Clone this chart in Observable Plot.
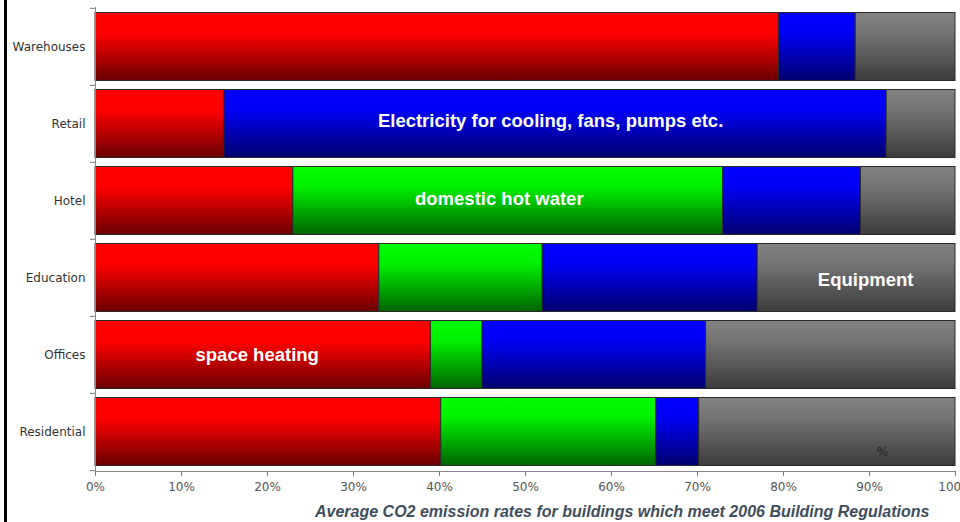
<!DOCTYPE html>
<html>
<head>
<meta charset="utf-8">
<script src="https://cdn.jsdelivr.net/npm/d3@7"></script>
<script src="https://cdn.jsdelivr.net/npm/@observablehq/plot@0.6"></script>
<style>
  html, body { margin: 0; padding: 0; background: #fff; }
  body { width: 960px; height: 522px; overflow: hidden; position: relative; font-family: "Liberation Sans", Arial, sans-serif; }
  #edge { position: absolute; left: 4px; top: 0; width: 3px; height: 522px; background: #000; }
  #chart { position: absolute; left: 0; top: 0; }
  #caption { position: absolute; left: 315px; top: 502px; font-size: 16px; line-height: 20px; font-weight: bold; font-style: italic; color: #3f4e5c; white-space: nowrap; }
</style>
</head>
<body>
<div id="chart"></div>
<div id="edge"></div>
<div id="caption">Average CO2 emission rates for buildings which meet 2006 Building Regulations</div>
<script>
// ---- data (percent of CO2 emissions) ----
const categories = ["Warehouses", "Retail", "Hotel", "Education", "Offices", "Residential"];
const seriesNames = ["space heating", "domestic hot water", "Electricity for cooling, fans, pumps etc.", "Equipment"];
const seriesKeys = ["heating", "water", "electricity", "equipment"];
const heating     = [79.5, 15, 23, 33, 39, 40.2];
const hotWater    = [0,     0, 50, 19,  6, 25];
const electricity = [8.9,  77, 16, 25, 26, 5];
const equipment   = [11.6,  8, 11, 23, 29, 29.8];
const labelCategory = ["Offices", "Hotel", "Retail", "Education"];
const xTicks = [0, 10, 20, 30, 40, 50, 60, 70, 80, 90, 100];
const pctNote = {cat: "Residential", value: 91.5, text: "%"};

const seriesValues = [heating, hotWater, electricity, equipment];
const rows = [];
categories.forEach((cat, i) => {
  seriesValues.forEach((vals, s) => {
    rows.push({cat, series: seriesNames[s], key: seriesKeys[s], value: vals[i], fill: `url(#g-${seriesKeys[s]})`});
  });
});

const labelStyle = [
  {dx: -6, dy: 0},
  {dx: -9, dy: -2},
  {dx: -5, dy: -3},
  {dx: 9, dy: 2}
];

const step = (500 - 7 - 29) / categories.length;
const axisFont = "'DejaVu Sans', Verdana, sans-serif";

const marks = [
  Plot.barX(rows, Plot.stackX({
    x: "value", y: "cat", fill: "fill",
    stroke: "#2a2a2a", strokeWidth: 1, insetTop: 4.5, insetBottom: 4.5
  })),
  Plot.frame({anchor: "left", stroke: "#888"}),
  Plot.frame({anchor: "bottom", stroke: "#888"}),
  Plot.axisY({tickSize: 0, tickPadding: 10, fontSize: 12, fontFamily: axisFont, fill: "#333"}),
  Plot.axisY({tickSize: 5, tickFormat: () => "", stroke: "#777", dy: -step / 2}),
  Plot.axisY({ticks: [categories[categories.length - 1]], tickSize: 5, tickFormat: () => "", stroke: "#777", dy: step / 2}),
  Plot.axisX({ticks: xTicks, tickFormat: d => d + "%", tickSize: 5, tickPadding: 6, fontSize: 12, fontFamily: axisFont, fill: "#555", stroke: "#777"})
];

seriesNames.forEach((name, s) => {
  marks.push(Plot.text(rows, Plot.stackX({
    x: "value", y: "cat",
    text: d => (d.series === name && d.cat === labelCategory[s]) ? name : null,
    fill: "white", fontWeight: "bold", fontSize: 18.5,
    dx: labelStyle[s].dx, dy: labelStyle[s].dy
  })));
});

marks.push(Plot.text([pctNote], {x: "value", y: "cat", text: "text", fill: "#222", fontSize: 12, fontFamily: axisFont, dy: 20}));

const chart = Plot.plot({
  width: 960,
  height: 500,
  marginLeft: 95,
  marginRight: 5,
  marginTop: 7,
  marginBottom: 29,
  style: {fontFamily: "'Liberation Sans', Arial, sans-serif", background: "transparent", overflow: "visible"},
  x: {domain: [0, 100], label: null},
  y: {domain: categories, padding: 0, label: null},
  color: {type: "identity"},
  marks
});

const svg = d3.select(chart);
const defs = svg.insert("defs", ":first-child");
const grads = {
  heating:     ["#ff0000", "#ff0000", "#6a0000"],
  water:       ["#00ff00", "#00f000", "#006400"],
  electricity: ["#0000ff", "#0000f5", "#00006e"],
  equipment:   ["#828282", "#747474", "#3c3c3c"]
};
Object.entries(grads).forEach(([k, c]) => {
  const g = defs.append("linearGradient").attr("id", "g-" + k)
    .attr("x1", 0).attr("y1", 0).attr("x2", 0).attr("y2", 1);
  g.append("stop").attr("offset", "0").attr("stop-color", c[0]);
  g.append("stop").attr("offset", "0.3").attr("stop-color", c[1]);
  g.append("stop").attr("offset", "1").attr("stop-color", c[2]);
});

document.getElementById("chart").appendChild(chart);
</script>
</body>
</html>
